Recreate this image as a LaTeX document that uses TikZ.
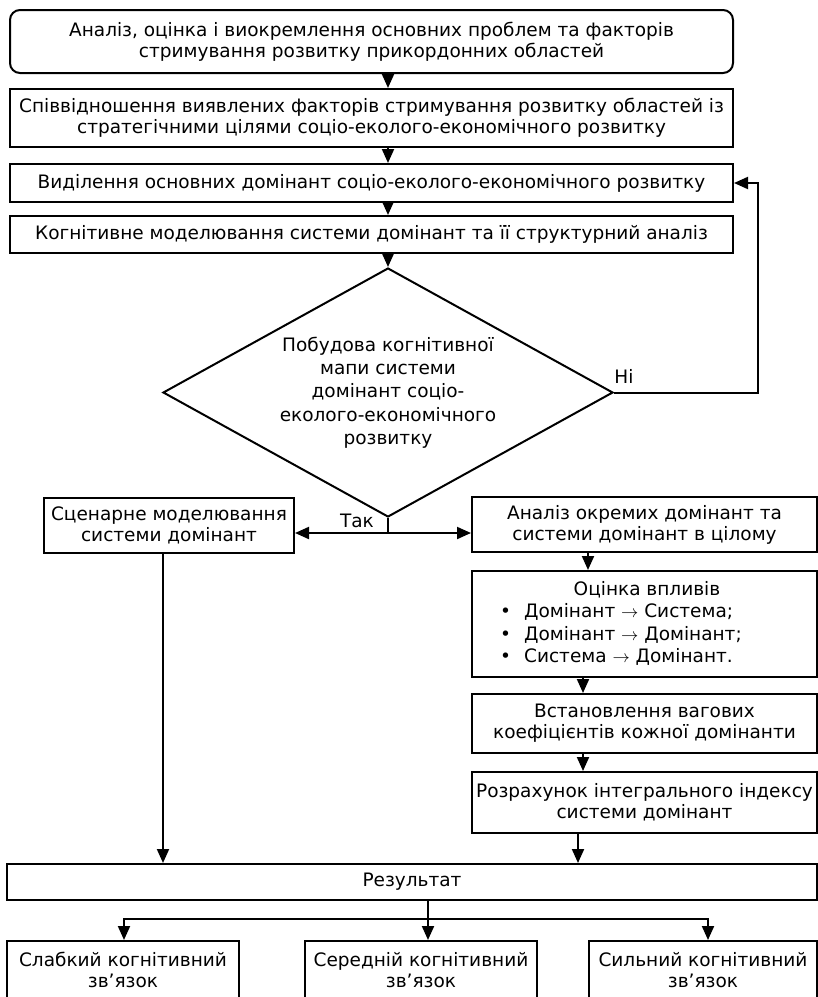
\documentclass[tikz,border=0pt]{standalone}
\usepackage{fontspec}
\setmainfont{DejaVu Sans}
\usetikzlibrary{arrows.meta,shapes.geometric,calc}
\begin{document}
\begin{tikzpicture}[x=1pt,y=-1pt,
  every node/.style={font=\fontsize{18.5}{21}\selectfont},
  box/.style={draw, line width=2pt, inner sep=0pt, align=center},
  arr/.style={line width=2pt, -{Triangle[length=14pt,width=12pt]}},
  ln/.style={line width=2pt}]
\useasboundingbox (0,0) rectangle (818,997);
\clip (0,0) rectangle (818,997);
% top column
\node[box, rounded corners=10pt, minimum width=723pt, minimum height=63pt] (b1) at (371.5,41.5)
  {Аналіз, оцінка і виокремлення основних проблем та факторів\\стримування розвитку прикордонних областей};
\node[box, minimum width=723pt, minimum height=58pt] (b2) at (371.5,118)
  {Співвідношення виявлених факторів стримування розвитку областей із\\стратегічними цілями соціо-еколого-економічного розвитку};
\node[box, minimum width=723pt, minimum height=38pt] (b3) at (371.5,183)
  {Виділення основних домінант соціо-еколого-економічного розвитку};
\node[box, minimum width=723pt, minimum height=37pt] (b4) at (371.5,234.5)
  {Когнітивне моделювання системи домінант та її структурний аналіз};
\node[draw, diamond, line width=2pt, minimum width=450pt, minimum height=249pt, inner sep=0pt,
  aspect=1.8, align=center, font=\fontsize{18.5}{23.3}\selectfont] (d) at (388,392.5)
  {Побудова когнітивної\\мапи системи\\домінант соціо-\\еколого-економічного\\розвитку};
% middle
\node[box, minimum width=250pt, minimum height=55pt] (lb) at (169,525.5)
  {Сценарне моделювання\\системи домінант};
\node[box, minimum width=345pt, minimum height=55pt] (r1) at (644.5,524.5)
  {Аналіз окремих домінант та\\системи домінант в цілому};
\node[box, minimum width=345pt, minimum height=106pt] (r2) at (644.5,624) {};
\node (r2t) at (647,590) {Оцінка впливів};
\node[anchor=west, align=left, inner sep=0pt, font=\fontsize{18.5}{22.5}\selectfont] (r2l) at (500,634.5)
  {\textbullet\hspace{13pt}Домінант $\rightarrow$ Система;\\
   \textbullet\hspace{13pt}Домінант $\rightarrow$ Домінант;\\
   \textbullet\hspace{13pt}Система $\rightarrow$ Домінант.};
\node[box, minimum width=345pt, minimum height=59pt] (r3) at (644.5,723.5)
  {Встановлення вагових\\коефіцієнтів кожної домінанти};
\node[box, minimum width=345pt, minimum height=61pt] (r4) at (644.5,802.5)
  {Розрахунок інтегрального індексу\\системи домінант};
% result
\node[box, minimum width=810pt, minimum height=36pt] (res) at (412,882) {Результат};
\node[box, minimum width=232pt, minimum height=58pt] (s1) at (123,970)
  {Слабкий когнітивний\\зв’язок};
\node[box, minimum width=232pt, minimum height=58pt] (s2) at (421,970)
  {Середній когнітивний\\зв’язок};
\node[box, minimum width=228pt, minimum height=58pt] (s3) at (703,970)
  {Сильний когнітивний\\зв’язок};
% connectors
\coordinate (cx) at (388,0);
\draw[arr] (b1.south -| cx) -- (b2.north -| cx);
\draw[arr] (b2.south -| cx) -- (b3.north -| cx);
\draw[arr] (b3.south -| cx) -- (b4.north -| cx);
\draw[arr] (b4.south -| cx) -- (d.north);
\coordinate (loopx) at (758,0);
\draw[arr] (d.east) -- (d.east -| loopx) |- (b3.east);
\node (ni) at (624,376) {Ні};
\coordinate (sp) at (388,533);
\draw[ln] (d.south) -- (sp);
\draw[arr] (sp) -- (sp -| lb.east);
\draw[arr] (sp) -- (sp -| r1.west);
\node (tak) at (357,521) {Так};
\coordinate (c1) at (588,0);
\coordinate (c2) at (583,0);
\coordinate (c4) at (578,0);
\draw[arr] (r1.south -| c1) -- (r2.north -| c1);
\draw[arr] (r2.south -| c2) -- (r3.north -| c2);
\draw[arr] (r3.south -| c2) -- (r4.north -| c2);
\draw[arr] (r4.south -| c4) -- (res.north -| c4);
\coordinate (cl) at (163,0);
\draw[arr] (lb.south -| cl) -- (res.north -| cl);
\coordinate (rb) at (428,919);
\coordinate (a1) at ($(s1.north)+(1,0)$);
\coordinate (a3) at ($(s3.north)+(5,0)$);
\draw[ln] (res.south -| rb) -- (rb);
\draw[arr] (rb) -| (a1);
\draw[arr] (rb) -| (a3);
\draw[arr] (rb) -- (s2.north -| rb);
\end{tikzpicture}
\end{document}
